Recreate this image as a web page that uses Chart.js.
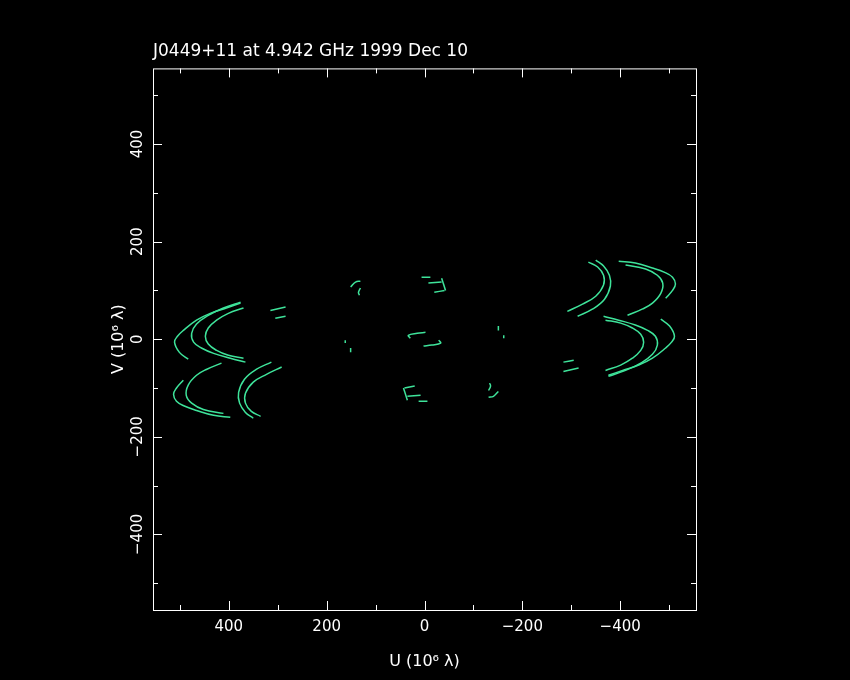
<!DOCTYPE html>
<html>
<head>
<meta charset="utf-8">
<script src="https://cdn.jsdelivr.net/npm/chart.js@4.4.1/dist/chart.umd.min.js"></script>
<style>
  html, body { margin: 0; padding: 0; background: #000; }
  #wrap { width: 850px; height: 680px; }
</style>
</head>
<body>
<div id="wrap"><canvas id="uv"></canvas></div>
<script>
// uv tracks, one half only (u, v in 10^6 lambda); the other half is the conjugate (-u, -v)
const trackC1 = [[483,-41],[501,-27],[511,-6],[505,6],[493,18],[466,39],[438,53],[405,64],[376,74]];
const trackC2 = [[376,76],[411,64],[442,49],[466,31],[476,12],[472,-6],[456,-18],[431,-29],[397,-39],[366,-47]];
const trackC3 = [[370,64],[401,53],[425,39],[442,23],[448,6],[442,-10],[425,-23],[401,-33],[370,-39]];
const trackD1 = [[493,-84],[507,-100],[513,-113],[507,-127],[491,-137],[466,-146],[431,-156],[397,-160]];
const trackD2 = [[415,-49],[446,-62],[466,-74],[483,-94],[487,-115],[476,-131],[452,-144],[411,-152]];
const trackD3 = [[292,-57],[323,-72],[350,-88],[366,-111],[366,-131],[354,-148],[335,-158]];
const trackD4 = [[313,-47],[344,-62],[368,-82],[380,-109],[378,-131],[366,-150],[350,-162]];
const trackE1 = [[315,59],[284,66]];
const trackE2 = [[305,43],[284,47]];
const trackF1 = [[151,107],[141,117],[131,119]];
const trackF2 = [[131,105],[135,96],[133,90]];
const trackG1 = [[6,127],[-12,127]];
const trackG2 = [[-8,115],[-35,117]];
const trackG3 = [[-35,125],[-43,100]];
const trackG4 = [[-20,96],[-41,100]];
const trackH1 = [[29,2],[33,8],[15,12],[-2,14]];
const trackI1 = [[162,-2],[162,-8]];
const trackI2 = [[151,-18],[151,-27]];

const tracks = [trackC1, trackC2, trackC3, trackD1, trackD2, trackD3, trackD4,
  trackE1, trackE2, trackF1, trackF2, trackG1, trackG2, trackG3, trackG4,
  trackH1, trackI1, trackI2];

const tickValues = [-400, -200, 0, 200, 400];
const titleText = 'J0449+11 at 4.942 GHz 1999 Dec 10';
const uLabel = 'U (10\u2076 \u03bb)';
const vLabel = 'V (10\u2076 \u03bb)';

const green = '#3ee39a';

let datasets = [];
tracks.forEach(function(t) {
  datasets.push({ data: t.map(p => ({x: p[0], y: p[1]})) });
  datasets.push({ data: t.map(p => ({x: -p[0], y: -p[1]})) });
});
datasets.forEach(function(d) {
  d.showLine = true;
  d.borderColor = green;
  d.borderWidth = 1.5;
  d.pointRadius = 0;
  d.tension = 0.4;
  d.fill = false;
});

function fmt(v) {
  return v < 0 ? '\u2212' + Math.abs(v) : String(v);
}

// PGPLOT style frame with inward ticks on all four sides
const frame = {
  id: 'frame',
  afterDraw(chart) {
    const ctx = chart.ctx;
    const a = chart.chartArea;
    const xs = chart.scales.x, ys = chart.scales.y;
    ctx.save();
    ctx.strokeStyle = '#fff';
    ctx.lineWidth = 1;
    ctx.strokeRect(a.left + 0.5, a.top + 0.5, a.right - a.left, a.bottom - a.top);
    ctx.beginPath();
    for (let v = -500; v <= 500; v += 100) {
      const len = (v % 200 === 0) ? 9 : 5;
      const px = Math.round(xs.getPixelForValue(v)) + 0.5;
      ctx.moveTo(px, a.bottom); ctx.lineTo(px, a.bottom - len);
      ctx.moveTo(px, a.top); ctx.lineTo(px, a.top + len);
      const py = Math.round(ys.getPixelForValue(v)) + 0.5;
      ctx.moveTo(a.left, py); ctx.lineTo(a.left + len, py);
      ctx.moveTo(a.right, py); ctx.lineTo(a.right - len, py);
    }
    ctx.stroke();
    ctx.restore();
  }
};

new Chart(document.getElementById('uv'), {
  type: 'scatter',
  data: { datasets: datasets },
  plugins: [frame],
  options: {
    responsive: true,
    maintainAspectRatio: false,
    animation: false,
    layout: { padding: { left: 109, right: 154, top: 41, bottom: 9 } },
    plugins: {
      legend: { display: false },
      tooltip: { enabled: false },
      title: {
        display: true,
        text: titleText,
        align: 'start',
        fullSize: false,
        color: '#fff',
        font: { family: 'DejaVu Sans', size: 17, weight: 'normal' },
        padding: { top: 0, bottom: 7 }
      }
    },
    scales: {
      x: {
        type: 'linear',
        reverse: true,
        min: -555,
        max: 555,
        afterBuildTicks: s => { s.ticks = tickValues.map(v => ({value: v})); },
        afterFit: s => { s.height = 61; },
        grid: { display: false, drawTicks: false },
        border: { display: false },
        ticks: {
          color: '#fff',
          padding: 8,
          maxRotation: 0,
          font: { family: 'DejaVu Sans', size: 15 },
          callback: v => fmt(v)
        },
        title: {
          display: true,
          text: uLabel,
          color: '#fff',
          padding: 0,
          font: { family: 'DejaVu Sans', size: 16 }
        }
      },
      y: {
        type: 'linear',
        min: -555,
        max: 555,
        afterBuildTicks: s => { s.ticks = tickValues.map(v => ({value: v})); },
        afterFit: s => { s.width = 44; },
        grid: { display: false, drawTicks: false },
        border: { display: false },
        ticks: {
          color: '#fff',
          padding: -6,
          minRotation: 90,
          maxRotation: 90,
          crossAlign: 'center',
          font: { family: 'DejaVu Sans', size: 15 },
          callback: v => fmt(v)
        },
        title: {
          display: true,
          text: vLabel,
          color: '#fff',
          padding: 0,
          font: { family: 'DejaVu Sans', size: 16 }
        }
      }
    }
  }
});
</script>
</body>
</html>
